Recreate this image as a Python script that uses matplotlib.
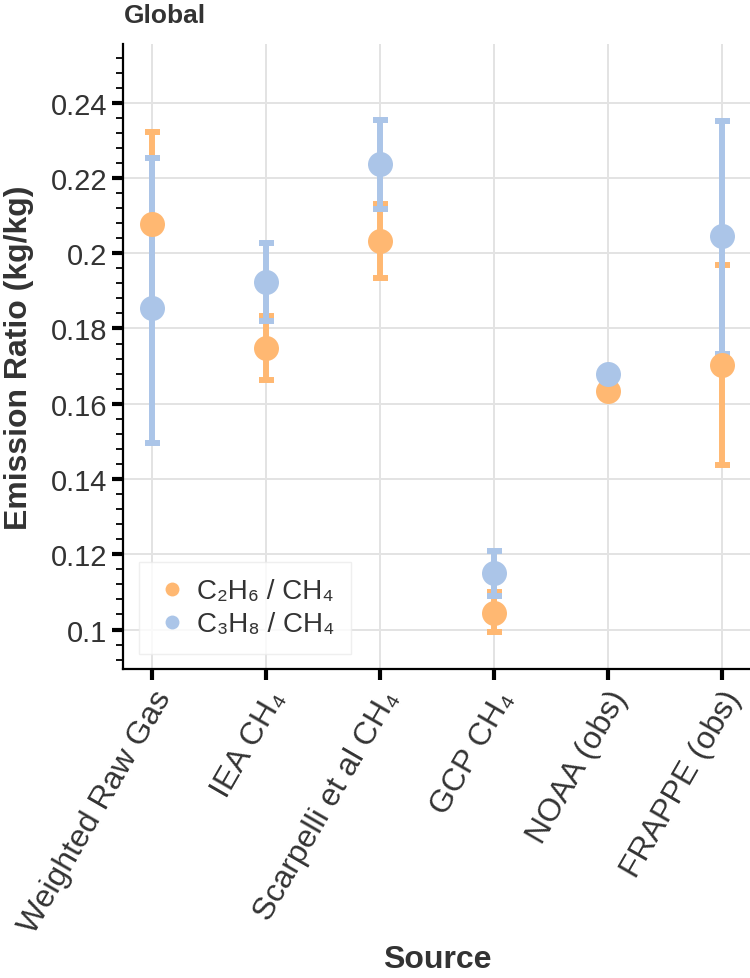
import numpy as np
import matplotlib
matplotlib.use("Agg")
import matplotlib.pyplot as plt
from matplotlib.ticker import MultipleLocator, FuncFormatter

plt.rcParams['font.family'] = ['Liberation Sans', 'DejaVu Sans']

# --- datos ---
sources = ["Weighted Raw Gas", "IEA CH₄", "Scarpelli et al CH₄", "GCP CH₄", "NOAA (obs)", "FRAPPE (obs)"]

ethane = [0.2079, 0.1747, 0.2033, 0.1044, 0.1635, 0.1703]
ethane_lo = [0.1835, 0.1663, 0.1933, 0.0993, 0.1635, 0.1436]
ethane_hi = [0.2323, 0.1834, 0.2131, 0.1099, 0.1635, 0.1969]

propane = [0.1855, 0.1924, 0.2237, 0.1151, 0.1679, 0.2045]
propane_lo = [0.1495, 0.1821, 0.2117, 0.1089, 0.1679, 0.1732]
propane_hi = [0.2254, 0.2026, 0.2355, 0.1210, 0.1679, 0.2352]

C_ETH = "#ffb872"
C_PRO = "#abc5e8"
TXT = "#333333"

fig = plt.figure(figsize=(7.5, 9.79), dpi=100)
ax = fig.add_axes([0.164, 0.3156, 0.836, 0.6384])

x = np.arange(len(sources))
eth = np.array(ethane)
pro = np.array(propane)

# barras de error primero, marcadores encima
ax.errorbar(x, eth, yerr=[eth - np.array(ethane_lo), np.array(ethane_hi) - eth],
            fmt='none', ecolor=C_ETH, elinewidth=4.3, capsize=5.4, capthick=4.3, zorder=3)
ax.errorbar(x, pro, yerr=[pro - np.array(propane_lo), np.array(propane_hi) - pro],
            fmt='none', ecolor=C_PRO, elinewidth=4.3, capsize=5.4, capthick=4.3, zorder=3)
ax.plot(x, eth, 'o', color=C_ETH, markersize=18, markeredgewidth=0, zorder=4)
ax.plot(x, pro, 'o', color=C_PRO, markersize=18, markeredgewidth=0, zorder=4)

# leyenda con marcadores pequeños
h1, = ax.plot([], [], 'o', color=C_ETH, markersize=10, markeredgewidth=0)
h2, = ax.plot([], [], 'o', color=C_PRO, markersize=10, markeredgewidth=0)
leg = ax.legend([h1, h2], ["C₂H₆ / CH₄", "C₃H₈ / CH₄"], loc='lower left',
                bbox_to_anchor=(0.025, 0.024), borderaxespad=0, fontsize=20,
                frameon=True, fancybox=False, handletextpad=0.3, handlelength=1.2,
                borderpad=0.6, labelspacing=0.25, labelcolor=TXT)
leg.get_frame().set_edgecolor("#ebebeb")
leg.get_frame().set_linewidth(1.0)

ax.set_xlim(-0.25, 5.25)
ax.set_ylim(0.0895, 0.2556)
ax.set_xticks(x)
ax.set_xticklabels(sources, rotation=60, ha='right', rotation_mode='anchor', fontsize=23, color=TXT)
ax.yaxis.set_major_locator(MultipleLocator(0.02))
ax.yaxis.set_minor_locator(MultipleLocator(0.004))
ax.yaxis.set_major_formatter(FuncFormatter(lambda v, p: f"{v:.2f}".rstrip('0')))
ax.tick_params(axis='y', labelsize=21, labelcolor=TXT)
ax.tick_params(which='major', length=8, width=3, color='black')
ax.tick_params(which='minor', length=5, width=1.3, color='black')

ax.grid(True, which='major', color='#e3e3e3', linewidth=1.4)
ax.set_axisbelow(True)
for s in ['top', 'right']:
    ax.spines[s].set_visible(False)
for s in ['left', 'bottom']:
    ax.spines[s].set_linewidth(1.6)

ax.set_ylabel("Emission Ratio (kg/kg)", fontsize=23, fontweight='bold', color=TXT)
ax.yaxis.set_label_coords(-0.142, 0.5)
fig.text(0.5827, 0.004, "Source", fontsize=23, fontweight='bold', color=TXT, ha='center', va='bottom')
fig.text(0.165, 1 - 23 / 979, "Global", fontsize=19, fontweight='bold', color=TXT, ha='left', va='baseline')

fig.savefig("out.png", dpi=100)
